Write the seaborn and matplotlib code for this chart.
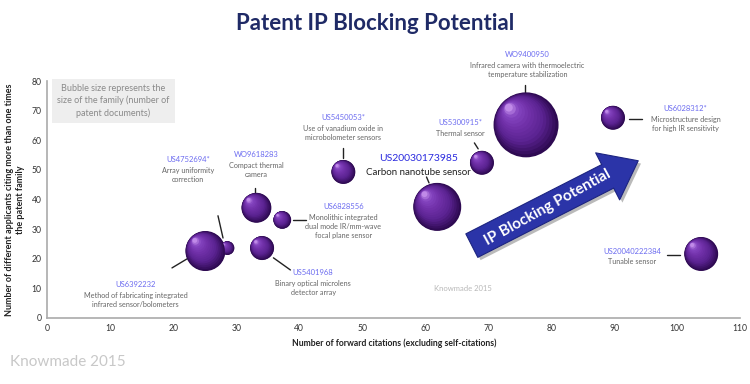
import numpy as np
import pandas as pd
import matplotlib
matplotlib.use("Agg")
import matplotlib.pyplot as plt
import matplotlib.colors as mcolors
from matplotlib.transforms import ScaledTranslation
import matplotlib.patheffects as pe
import seaborn as sns

# ---------------- data ----------------
patents = ["US6392232", "US4752694*", "WO9618283", "US5450053*", "US6828556",
           "US5401968", "US20030173985", "US5300915*", "WO9400950", "US6028312*",
           "US20040222384"]
descriptions = ["Method of fabricating integrated\ninfrared sensor/bolometers",
                "Array uniformity\ncorrection",
                "Compact thermal\ncamera",
                "Use of vanadium oxide in\nmicrobolometer sensors",
                "Monolithic integrated\ndual mode IR/mm-wave\nfocal plane sensor",
                "Binary optical microlens\ndetector array",
                "Carbon nanotube sensor",
                "Thermal sensor",
                "Infrared camera with thermoelectric\ntemperature stabilization",
                "Microstructure design\nfor high IR sensitivity",
                "Tunable sensor"]
forward_citations = [25.1, 28.6, 33.2, 47.0, 37.3, 34.1, 61.9, 69.0, 76.0, 89.8, 103.8]
applicants = [22.6, 23.6, 37.2, 49.3, 33.1, 23.6, 37.5, 52.4, 65.2, 67.6, 21.6]
family_size = [25, 3, 14, 9, 5, 9, 36, 9, 66, 9, 18]

x_ticks = [0, 10, 20, 30, 40, 50, 60, 70, 80, 90, 100, 110]
y_ticks = [0, 10, 20, 30, 40, 50, 60, 70, 80]

# layout of the annotation labels (header anchor, leader line ends)
label_xy = [(14.0, 11.2), (22.4, 53.4), (33.2, 55.1), (47.0, 67.6), (47.0, 37.5),
            (42.2, 15.2), (58.9, 53.7), (65.6, 65.9), (76.2, 88.9), (101.3, 70.6),
            (92.9, 22.6)]
leader_a = [(19.8, 16.9), (27.1, 34.5), (33.0, 43.9), (47.0, 57.4), (39.0, 33.1),
            (35.9, 20.3), (60.2, 47.6), (67.8, 59.1), (75.9, 78.7), (92.4, 67.2),
            (98.4, 21.3)]
leader_b = [(22.7, 20.6), (27.9, 27.0), (33.0, 41.6), (47.0, 54.1), (41.0, 33.1),
            (38.6, 16.2), (60.6, 45.6), (68.4, 57.1), (75.9, 76.0), (94.4, 67.2),
            (100.5, 21.3)]

df = pd.DataFrame({"patent": patents, "x": forward_citations,
                   "y": applicants, "size": family_size})

# ---------------- figure ----------------
sns.set_theme(style="white")
plt.rcParams['font.family'] = ['Lato', 'DejaVu Sans']

fig = plt.figure(figsize=(7.5, 3.84), dpi=100)
ax = fig.add_axes([0.063, 0.172, 0.924, 0.617])

dark_col = "#2e0a52"

sns.scatterplot(data=df, x="x", y="y", size="size", sizes=(99, 2190),
                color=dark_col, edgecolor="none", legend=False, ax=ax, zorder=3)

sizes = ax.collections[0].get_sizes()
# sphere shading: concentric layers shifted toward the upper-left
n_layers = 16
cmap = mcolors.LinearSegmentedColormap.from_list(
    "sph", [(0.0, dark_col), (0.3, "#5a2290"), (0.6, "#7030a8"),
            (0.85, "#8444c0"), (1.0, "#c08ae8")])
order = np.argsort(sizes)
for rank, i in enumerate(order):
    xi, yi, si = df.x[i], df.y[i], sizes[i]
    d = np.sqrt(si)
    for k in range(n_layers):
        frac = k / (n_layers - 1)
        t = 1 - frac * 0.88
        off = (1 - t) * d * 0.3
        tr = ax.transData + ScaledTranslation(-off / 72, off / 72, fig.dpi_scale_trans)
        ax.scatter([xi], [yi], s=si * t * t * (0.95 if k == 0 else 1),
                   color=cmap(frac), edgecolor="none",
                   transform=tr, zorder=4 + rank * 0.1 + k * 0.001)

# labels
for (lx, ly), pat, desc, a, b in zip(label_xy, patents, descriptions, leader_a, leader_b):
    big = pat == "US20030173985"
    ax.text(lx, ly, pat, ha="center", va="center", fontsize=7.5 if big else 5.5,
            color="#2a2adf" if big else "#6c6cf0", clip_on=False, zorder=6)
    ax.text(lx, ly - (3.2 if big else 2.4), desc, ha="center", va="top",
            fontsize=7 if big else 5.2, color="#222222" if big else "#666666",
            linespacing=1.3, clip_on=False, zorder=6)
    ax.plot([a[0], b[0]], [a[1], b[1]], color="#222222", lw=1.0, zorder=2,
            clip_on=False)

# IP blocking arrow
ax.annotate("", xy=(94.2, 53.5), xytext=(67.0, 24.0),
            arrowprops=dict(arrowstyle="simple,head_width=2.0,head_length=1.3,tail_width=1.0",
                            mutation_scale=19, facecolor="#2b34a8",
                            edgecolor="#1c2480", lw=0.8,
                            path_effects=[pe.withSimplePatchShadow(offset=(2, -2), shadow_rgbFace="#777777", alpha=0.5)]),
            zorder=5)
ax.text(79.4, 37.2, "IP Blocking Potential", rotation=29, rotation_mode="anchor",
        ha="center", va="center", fontsize=11, fontweight="bold", color="white",
        zorder=7)

# note box
ax.text(10.5, 73.3, "Bubble size represents the\nsize of the family (number of\npatent documents)",
        ha="center", va="center", fontsize=6.5, color="#8a8a8a", linespacing=1.35,
        bbox=dict(boxstyle="square,pad=0.6", facecolor="#eeeeee", edgecolor="none"),
        zorder=6)

# watermark
ax.text(66, 10, "Knowmade 2015", fontsize=5.5, color="#b8b8b8", ha="center", va="center")

ax.set_xlim(0, 110)
ax.set_ylim(0, 80)
ax.set_xticks(x_ticks)
ax.set_yticks(y_ticks)
ax.tick_params(axis="both", labelsize=6.2, colors="#333333", length=0, pad=4)
for s in ["top", "right"]:
    ax.spines[s].set_visible(False)
for s in ["left", "bottom"]:
    ax.spines[s].set_color("#aaaaaa")
    ax.spines[s].set_linewidth(1.2)

ax.set_xlabel("Number of forward citations (excluding self-citations)", fontsize=6.2,
              fontweight="bold", color="#222222", labelpad=4)
ax.set_ylabel("Number of different applicants citing more than one times\nthe patent family",
              fontsize=6.5, fontweight="bold", color="#222222", labelpad=5)

fig.text(0.5, 0.94, "Patent IP Blocking Potential", ha="center", va="center",
         fontsize=16, fontweight="bold", color="#1f2a66")
fig.text(0.013, 0.057, "Knowmade 2015", ha="left", va="center", fontsize=11,
         color="#c8c8c8")

fig.savefig("out.png", dpi=100)
